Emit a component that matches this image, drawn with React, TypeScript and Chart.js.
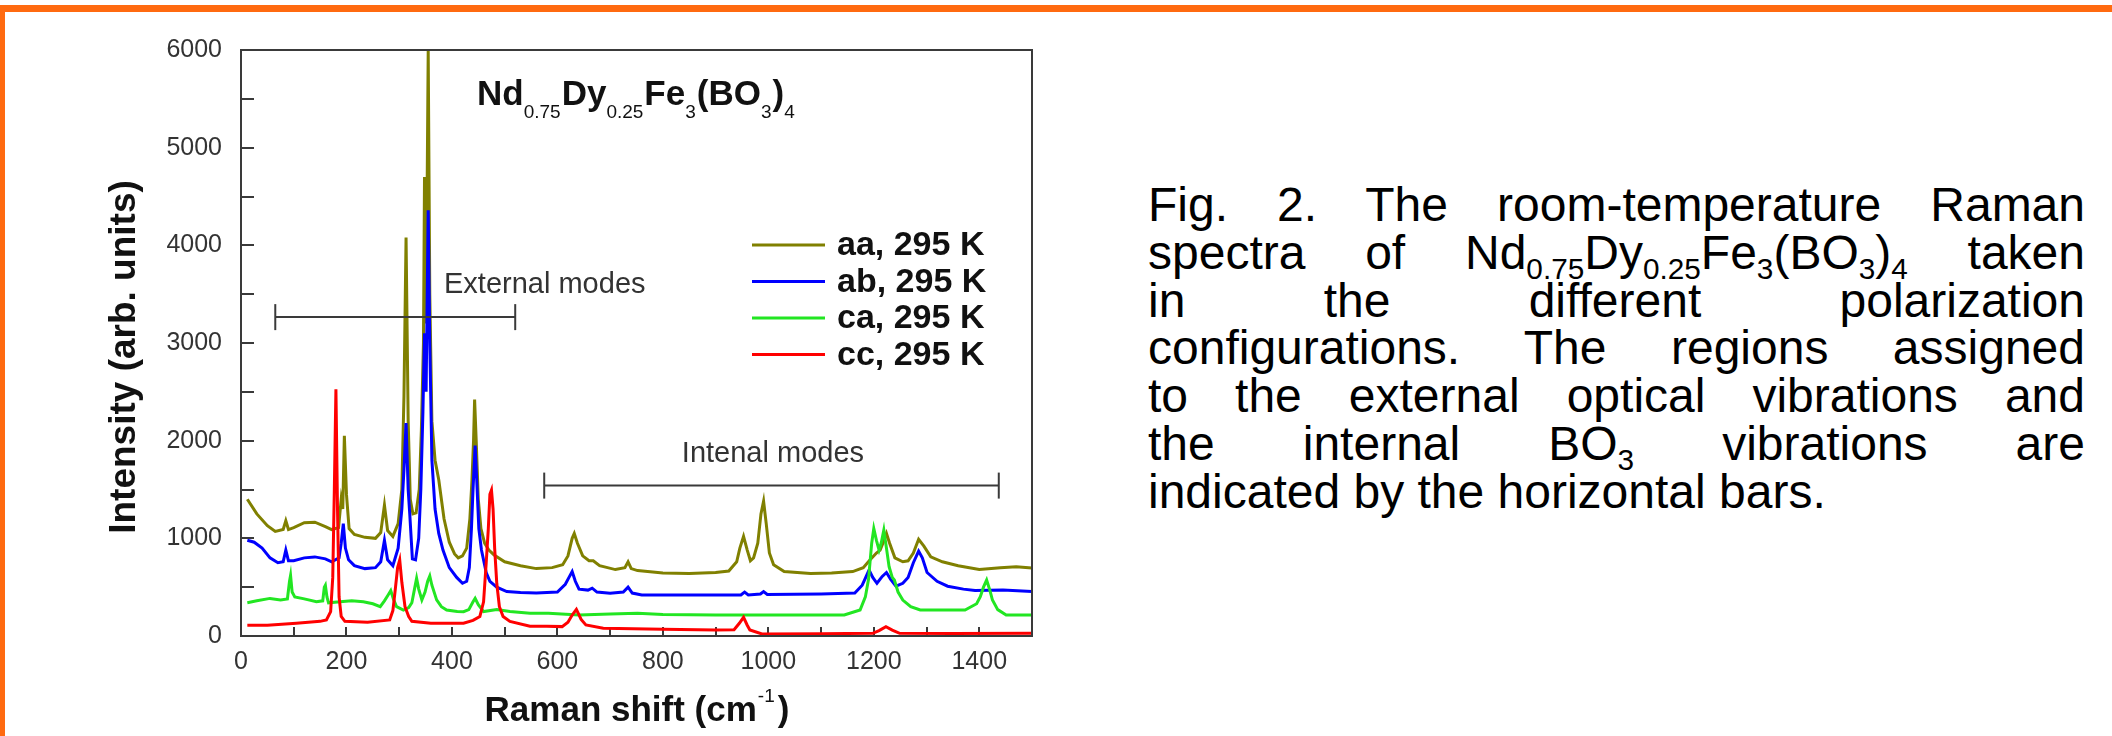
import React, { useEffect, useRef } from 'react';
import { Chart, registerables } from 'chart.js';

Chart.register(...registerables);

const FONT = '"Liberation Sans", Arial, Helvetica, sans-serif';

// ---------- data (Raman shift in cm-1, intensity in arb. units) ----------
const aaShift = [12,30,50,65,80,85,90,100,120,140,160,172,185,190,193,196,200,205,215,235,255,265,272,278,288,298,305,309,313,317,321,326,332,338,342,346,348,351,355,358,362,368,375,385,395,405,412,420,428,434,438,441,443,446,450,455,462,470,480,500,530,560,590,610,620,628,632,638,648,660,668,680,710,728,734,740,752,800,850,900,925,940,946,953,960,966,972,980,986,991,996,1002,1010,1030,1080,1120,1160,1180,1193,1205,1212,1218,1224,1230,1240,1255,1265,1275,1285,1295,1308,1330,1360,1400,1440,1470,1500];
const aaIntensity = [1400,1250,1130,1070,1090,1180,1090,1110,1160,1165,1120,1090,1110,1400,1300,2050,1450,1100,1040,1010,1000,1060,1340,1080,1020,1150,1500,2450,4080,2200,1400,1250,1260,1500,2100,3000,4700,3200,5990,3500,2200,1800,1600,1200,960,840,800,820,900,1200,1600,2000,2420,2000,1400,1100,950,880,830,760,720,690,700,730,820,1000,1050,950,820,770,770,720,680,700,760,690,670,645,640,650,665,760,900,1020,880,770,800,950,1250,1380,1150,850,730,660,640,645,660,700,780,850,880,960,1050,950,800,760,770,850,990,920,810,760,720,680,700,710,695];

const abShift = [12,25,40,55,70,80,85,90,100,120,140,160,172,186,190,194,198,204,215,235,255,265,272,278,288,298,305,309,313,317,320,325,331,337,341,345,348,351,355,358,362,368,375,383,395,409,420,428,433,437,440,444,447,451,456,465,472,485,504,530,560,600,615,622,628,634,641,658,666,675,700,725,734,742,760,850,948,955,962,985,991,998,1100,1164,1178,1183,1191,1198,1206,1216,1224,1232,1242,1255,1265,1275,1285,1292,1301,1320,1340,1370,1392,1445,1500];
const abIntensity = [980,960,900,800,750,760,880,770,770,800,810,790,760,800,950,1150,900,780,720,690,700,760,980,780,720,900,1300,1700,2180,1500,1250,790,780,1000,1500,2300,3100,2500,4360,3000,1800,1300,1050,880,700,600,540,560,700,1100,1500,1950,1600,1100,880,650,560,500,455,445,440,450,530,600,660,560,480,470,490,450,437,450,500,440,420,420,420,450,420,430,455,425,430,440,520,580,675,600,540,610,650,580,510,540,600,750,870,800,650,560,510,480,465,470,455];

const caShift = [12,30,55,75,88,92,94,97,102,120,143,155,158,160,163,166,188,210,232,250,264,272,279,284,289,295,308,318,324,329,333,337,343,349,354,358,362,371,380,390,410,422,432,440,444,450,460,485,510,548,583,641,700,752,800,900,1000,1144,1174,1184,1190,1196,1200,1205,1210,1214,1219,1224,1229,1235,1239,1246,1255,1270,1288,1373,1395,1402,1408,1414,1420,1425,1435,1451,1500];
const caIntensity = [340,360,385,370,380,560,620,450,400,380,350,360,500,520,400,340,350,360,350,330,300,360,420,465,380,300,265,290,340,480,590,480,370,450,560,614,520,370,300,266,250,249,270,350,385,320,250,270,250,232,232,215,225,232,220,215,215,215,266,400,580,950,1100,980,880,950,1085,900,710,600,573,450,368,300,266,266,330,403,500,573,470,368,270,215,215];

const ccShift = [12,50,105,150,162,170,174,177,180,183,186,190,197,240,282,288,292,297,301,305,311,318,324,360,422,440,453,460,465,469,472,475,478,481,485,490,497,510,548,580,609,620,628,636,645,654,687,800,900,935,945,953,960,965,988,1100,1198,1210,1223,1235,1249,1350,1500];
const ccIntensity = [110,110,130,150,165,250,600,1500,2525,1300,400,200,150,140,165,260,450,700,778,550,300,200,150,130,130,160,200,350,750,1100,1450,1494,1300,900,540,300,200,150,100,100,96,140,215,273,170,113,79,70,62,65,130,191,110,61,20,22,27,55,96,60,27,25,27];

const seriesLabels = ['aa, 295 K', 'ab, 295 K', 'ca, 295 K', 'cc, 295 K'];
const seriesColors = ['#808000', '#0000ff', '#22e622', '#ff0000'];

// axis ranges / ticks
const xRange = [0, 1500];
const yRange = [0, 6000];
const xMinorStep = 100;
const xLabelStep = 200;
const yMinorStep = 500;
const yLabelStep = 1000;
const yTitle = 'Intensity (arb. units)';

// mode bars (shift range, intensity level) and their labels
const externalModesRange = [65, 520];
const externalModesLevel = 3265;
const externalLabel = { text: 'External modes', shift: 385, intensity: 3511 };
const internalModesRange = [575, 1437];
const internalModesLevel = 1540;
const internalLabel = { text: 'Intenal modes', shift: 836, intensity: 1781 };

// chemical formula: [text, isSubscript]
const formulaParts: [string, boolean][] = [
  ['Nd', false], ['0.75', true], ['Dy', false], ['0.25', true], ['Fe', false], ['3', true],
  ['(BO', false], ['3', true], [')', false], ['4', true],
];

const captionLines: [string, boolean][][] = [
  [['Fig. 2. The room-temperature Raman', false]],
  [['spectra of Nd', false], ['0.75', true], ['Dy', false], ['0.25', true], ['Fe', false], ['3', true], ['(BO', false], ['3', true], [')', false], ['4', true], [' taken', false]],
  [['in the different polarization', false]],
  [['configurations. The regions assigned', false]],
  [['to the external optical vibrations and', false]],
  [['the internal BO', false], ['3', true], [' vibrations are', false]],
  [['indicated by the horizontal bars.', false]],
];

const toPoints = (xs: number[], ys: number[]) => xs.map((x, i) => ({ x, y: ys[i] }));

const overlayPlugin = {
  id: 'overlay',
  afterDatasetsDraw(chart: any) {
    const { ctx, chartArea: a, scales } = chart;
    const xs = scales.x;
    const ys = scales.y;
    ctx.save();
    // frame
    ctx.strokeStyle = '#3a3a3a';
    ctx.lineWidth = 2;
    ctx.strokeRect(a.left, a.top, a.right - a.left, a.bottom - a.top);

    // mode labels
    ctx.fillStyle = '#333';
    ctx.font = `29px ${FONT}`;
    ctx.textAlign = 'left';
    ctx.textBaseline = 'alphabetic';
    for (const l of [externalLabel, internalLabel]) {
      ctx.fillText(l.text, xs.getPixelForValue(l.shift), ys.getPixelForValue(l.intensity));
    }

    // formula
    let fx = a.left + 236;
    const fb = a.top + 55;
    ctx.fillStyle = '#111';
    for (const [t, sub] of formulaParts) {
      ctx.font = sub ? `19px ${FONT}` : `bold 35px ${FONT}`;
      ctx.fillText(t, fx, sub ? fb + 13 : fb);
      fx += ctx.measureText(t).width + (sub ? 1 : 0);
    }

    // legend
    ctx.textBaseline = 'middle';
    ctx.font = `bold 34px ${FONT}`;
    seriesLabels.forEach((lab, i) => {
      const ly = a.top + 195 + i * 36.5;
      ctx.strokeStyle = seriesColors[i];
      ctx.lineWidth = 3;
      ctx.beginPath();
      ctx.moveTo(a.left + 511, ly);
      ctx.lineTo(a.left + 584, ly);
      ctx.stroke();
      ctx.fillStyle = '#111';
      ctx.fillText(lab, a.left + 596, ly + 1);
    });

    // y-axis title
    ctx.save();
    ctx.translate(125, 357);
    ctx.rotate(-Math.PI / 2);
    ctx.textAlign = 'center';
    ctx.textBaseline = 'middle';
    ctx.font = `bold 37px ${FONT}`;
    ctx.fillStyle = '#111';
    ctx.fillText(yTitle, 0, 0);
    ctx.restore();

    // x-axis title with superscript
    ctx.textAlign = 'left';
    ctx.textBaseline = 'alphabetic';
    const main1 = 'Raman shift (cm';
    const sup = '-1';
    const main2 = ')';
    ctx.font = `bold 35px ${FONT}`;
    const w1 = ctx.measureText(main1).width;
    const w3 = ctx.measureText(main2).width;
    ctx.font = `19px ${FONT}`;
    const w2 = ctx.measureText(sup).width + 3;
    let tx = (a.left + a.right) / 2 - (w1 + w2 + w3) / 2;
    const tb = a.bottom + 85;
    ctx.fillStyle = '#111';
    ctx.font = `bold 35px ${FONT}`;
    ctx.fillText(main1, tx, tb);
    tx += w1 + 1;
    ctx.font = `19px ${FONT}`;
    ctx.fillText(sup, tx, tb - 19);
    tx += w2;
    ctx.font = `bold 35px ${FONT}`;
    ctx.fillText(main2, tx, tb);
    ctx.restore();
  },
};

export default function App() {
  const canvasRef = useRef<HTMLCanvasElement | null>(null);

  useEffect(() => {
    const canvas = canvasRef.current;
    if (!canvas) return;
    const spectra = [
      toPoints(aaShift, aaIntensity),
      toPoints(abShift, abIntensity),
      toPoints(caShift, caIntensity),
      toPoints(ccShift, ccIntensity),
    ];
    const barStyle = {
      borderColor: '#3a3a3a',
      borderWidth: 2,
      pointStyle: 'line',
      pointRadius: 13,
      pointRotation: 90,
      pointBorderWidth: 2,
      pointBorderColor: '#3a3a3a',
      pointHoverRadius: 13,
      order: 0,
    };
    const chart = new Chart(canvas, {
      type: 'line',
      data: {
        datasets: [
          ...spectra.map((pts, i) => ({
            label: seriesLabels[i],
            data: pts,
            borderColor: seriesColors[i],
            backgroundColor: seriesColors[i],
            borderWidth: 3,
            pointRadius: 0,
            tension: 0,
            order: 4 - i,
          })),
          {
            label: 'External modes',
            data: externalModesRange.map((x) => ({ x, y: externalModesLevel })),
            ...barStyle,
          },
          {
            label: 'Internal modes',
            data: internalModesRange.map((x) => ({ x, y: internalModesLevel })),
            ...barStyle,
          },
        ] as any,
      },
      options: {
        animation: false,
        responsive: false,
        maintainAspectRatio: false,
        events: [],
        layout: { padding: { left: 0, right: 68, top: 50, bottom: 0 } },
        plugins: { legend: { display: false }, tooltip: { enabled: false }, title: { display: false } },
        scales: {
          x: {
            type: 'linear',
            min: xRange[0],
            max: xRange[1],
            afterFit: (s: any) => { s.height = 100; },
            border: { display: true, color: '#3a3a3a', width: 2 },
            grid: { drawOnChartArea: false, drawTicks: true, tickLength: -9, color: '#3a3a3a', lineWidth: 2 },
            ticks: {
              stepSize: xMinorStep,
              autoSkip: false,
              maxRotation: 0,
              minRotation: 0,
              padding: 20,
              color: '#333',
              font: { family: FONT, size: 25 },
              callback: (v: any) => (Number(v) % xLabelStep === 0 ? String(v) : ''),
            },
          },
          y: {
            type: 'linear',
            min: yRange[0],
            max: yRange[1],
            afterFit: (s: any) => { s.width = 241; },
            border: { display: true, color: '#3a3a3a', width: 2 },
            grid: { drawOnChartArea: false, drawTicks: true, tickLength: -13, color: '#3a3a3a', lineWidth: 2 },
            ticks: {
              stepSize: yMinorStep,
              autoSkip: false,
              padding: 32,
              color: '#333',
              font: { family: FONT, size: 25 },
              callback: (v: any) => (Number(v) % yLabelStep === 0 ? String(v) : ''),
            },
          },
        },
      } as any,
      plugins: [overlayPlugin],
    });
    return () => chart.destroy();
  }, []);

  const subStyle: React.CSSProperties = { fontSize: '0.62em', verticalAlign: '-0.34em', lineHeight: 0 };

  return (
    <div style={{ position: 'fixed', left: 0, top: 0, width: 2112, height: 736, background: '#fff', overflow: 'hidden' }}>
      <canvas ref={canvasRef} width={1100} height={736} style={{ position: 'absolute', left: 0, top: 0, width: 1100, height: 736 }} />
      <div style={{ position: 'absolute', left: 0, top: 5, width: 2112, height: 7, background: '#ff6a10' }} />
      <div style={{ position: 'absolute', left: 0, top: 5, width: 5, height: 731, background: '#ff6a10' }} />
      <div
        style={{
          position: 'absolute',
          left: 1148,
          top: 181,
          width: 937,
          fontFamily: FONT,
          fontSize: 48,
          lineHeight: '47.8px',
          color: '#000',
        }}
      >
        {captionLines.map((segs, i) => {
          const last = i === captionLines.length - 1;
          return (
            <div key={i} style={{ textAlign: last ? 'left' : 'justify', textAlignLast: last ? 'left' : 'justify' } as any}>
              {segs.map(([t, sub], j) => (sub ? <span key={j} style={subStyle}>{t}</span> : <span key={j}>{t}</span>))}
            </div>
          );
        })}
      </div>
    </div>
  );
}
